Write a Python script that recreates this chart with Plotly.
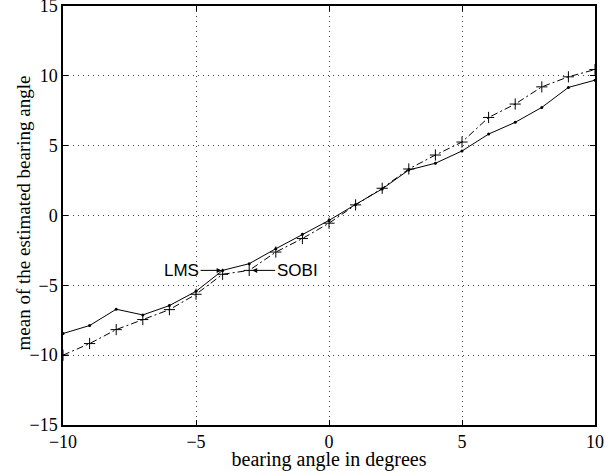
import plotly.graph_objects as go

angles = list(range(-10, 11))
lms = [-8.45, -7.88, -6.71, -7.12, -6.45, -5.43, -3.93, -3.45, -2.38, -1.35, -0.35,
       0.79, 1.90, 3.26, 3.74, 4.62, 5.83, 6.67, 7.74, 9.17, 9.69]
sobi = [-10.0, -9.17, -8.17, -7.45, -6.74, -5.64, -4.21, -3.93, -2.62, -1.65, -0.55,
        0.76, 1.95, 3.33, 4.33, 5.26, 7.02, 7.98, 9.21, 9.93, 10.45]
x_ticks = [-10, -5, 0, 5, 10]
y_ticks = [-15, -10, -5, 0, 5, 10, 15]

serif = "Liberation Serif"
sans = "Liberation Sans"

fig = go.Figure()
fig.add_trace(go.Scatter(
    x=angles, y=lms, mode="lines+markers", name="LMS",
    line=dict(color="black", width=1),
    marker=dict(symbol="circle", size=3, color="black"),
))
fig.add_trace(go.Scatter(
    x=angles, y=sobi, mode="lines+markers", name="SOBI",
    line=dict(color="black", width=1, dash="7px,3px,2px,3px"),
    marker=dict(symbol="cross-thin", size=8, line=dict(color="black", width=1)),
))

i_lms = angles.index(-4)
i_sobi = angles.index(-3)
fig.add_annotation(x=angles[i_lms], y=lms[i_lms], xref="x", yref="y",
                   text="LMS", showarrow=True, ax=-41, ay=0, standoff=1,
                   arrowhead=2, arrowsize=1, arrowwidth=1, arrowcolor="black",
                   font=dict(family=sans, size=17, color="black"))
fig.add_annotation(x=angles[i_sobi], y=sobi[i_sobi], xref="x", yref="y",
                   text="SOBI", showarrow=True, ax=48, ay=0, standoff=3,
                   arrowhead=2, arrowsize=1, arrowwidth=1, arrowcolor="black",
                   font=dict(family=sans, size=17, color="black"))

# y-axis title placed as text next to the axis
fig.add_annotation(x=-40 / 532, y=0.505, xref="paper", yref="paper",
                   text="mean of the estimated bearing angle", textangle=-90,
                   showarrow=False, xanchor="center", yanchor="middle",
                   font=dict(family=serif, size=19, color="black"))

axis_common = dict(
    showline=True, linecolor="black", linewidth=1.5, mirror="ticks",
    ticks="inside", ticklen=5, tickwidth=1, tickcolor="black",
    showgrid=True, gridcolor="#444444", gridwidth=1, griddash="1px,4px",
    zeroline=False, automargin=False, ticklabeloverflow="allow",
    tickfont=dict(family=serif, size=18, color="black"),
)

fig.update_xaxes(range=[-10, 10], tickvals=x_ticks,
                 title=dict(text="bearing angle in degrees", standoff=0,
                            font=dict(family=serif, size=20, color="black")),
                 **axis_common)
fig.update_yaxes(range=[-15, 15], tickvals=y_ticks, **axis_common)

fig.update_layout(
    template="none",
    width=614, height=471,
    margin=dict(l=63, r=19, t=6, b=46),
    paper_bgcolor="white", plot_bgcolor="white",
    showlegend=False,
)

fig.write_html("out.html", config={"displayModeBar": False},
               post_script="document.body.style.margin='0';")
